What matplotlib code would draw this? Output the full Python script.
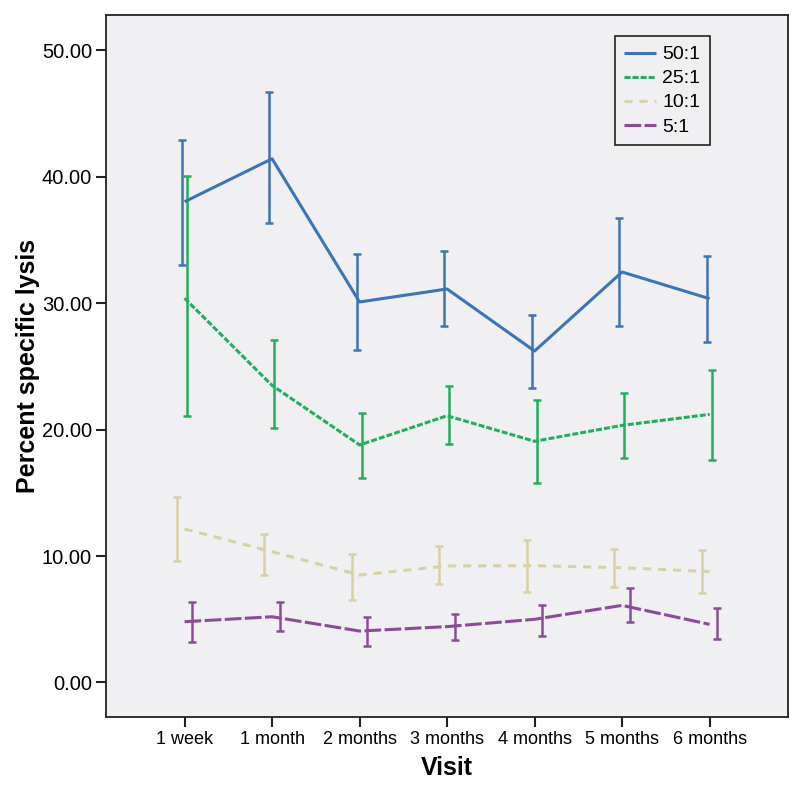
import numpy as np
import matplotlib
matplotlib.use("Agg")
import matplotlib.pyplot as plt

plt.rcParams["font.family"] = ["Liberation Sans", "DejaVu Sans"]
plt.rcParams["lines.scale_dashes"] = False

visits = ["1 week", "1 month", "2 months", "3 months", "4 months", "5 months", "6 months"]

series_labels = ["50:1", "25:1", "10:1", "5:1"]

mean_50 = [38.03, 41.43, 30.10, 31.13, 26.22, 32.47, 30.36]
upper_50 = [42.94, 46.69, 33.87, 34.13, 29.07, 36.74, 33.74]
lower_50 = [33.03, 36.35, 26.28, 28.20, 23.27, 28.20, 26.91]

mean_25 = [30.40, 23.50, 18.79, 21.10, 19.08, 20.34, 21.21]
upper_25 = [40.09, 27.10, 21.32, 23.43, 22.35, 22.90, 24.72]
lower_25 = [21.08, 20.13, 16.20, 18.87, 15.78, 17.79, 17.63]

mean_10 = [12.14, 10.35, 8.50, 9.22, 9.24, 9.08, 8.77]
upper_10 = [14.70, 11.75, 10.16, 10.80, 11.25, 10.59, 10.48]
lower_10 = [9.61, 8.50, 6.53, 7.77, 7.19, 7.53, 7.08]

mean_5 = [4.81, 5.20, 4.07, 4.42, 5.00, 6.10, 4.60]
upper_5 = [6.34, 6.39, 5.18, 5.42, 6.15, 7.47, 5.87]
lower_5 = [3.23, 4.10, 2.86, 3.36, 3.65, 4.81, 3.42]

colors = ["#3C74B8", "#22AE5C", "#D8D0A6", "#8C4B99"]
dashes = [None, (4.3, 1.5), (5.8, 5.0), (12.0, 2.5)]
bar_offsets = [-0.035, 0.025, -0.09, 0.09]

fig = plt.figure(figsize=(8.0, 7.95), dpi=100)
ax = fig.add_axes([0.1325, 0.0981, 0.8525, 0.883])
ax.set_facecolor("#F0F0F2")

x = np.arange(len(visits))
data = [
    (mean_50, upper_50, lower_50),
    (mean_25, upper_25, lower_25),
    (mean_10, upper_10, lower_10),
    (mean_5, upper_5, lower_5),
]

# draw faint ones first so blue/green stay on top
for idx in [2, 3, 1, 0]:
    mean, upper, lower = data[idx]
    mean = np.array(mean)
    upper = np.array(upper)
    lower = np.array(lower)
    (line,) = ax.plot(x, mean, color=colors[idx], lw=2.2, label=series_labels[idx],
                      solid_capstyle="butt", dash_capstyle="butt")
    if dashes[idx] is not None:
        line.set_dashes(dashes[idx])
    ax.errorbar(x + bar_offsets[idx], mean, yerr=[mean - lower, upper - mean],
                fmt="none", ecolor=colors[idx], elinewidth=1.8, capsize=3, capthick=1.8)

ax.set_xlim(-0.898, 6.896)
ax.set_ylim(-2.73, 52.8)
ax.set_xticks(x)
ax.set_xticklabels(visits, fontsize=13)
ax.set_yticks(np.arange(0, 51, 10))
ax.set_yticklabels([f"{v:.2f}" for v in np.arange(0, 51, 10)], fontsize=14.5)
ax.tick_params(direction="out", length=7, width=1.5, color="#222222", pad=3)

for spine in ax.spines.values():
    spine.set_color("#222222")
    spine.set_linewidth(1.3)

ax.set_xlabel("Visit", fontsize=18, fontweight="bold", labelpad=6)
ax.set_ylabel("Percent specific lysis", fontsize=18, fontweight="bold", labelpad=1)

handles, labels = ax.get_legend_handles_labels()
order = [labels.index(lbl) for lbl in series_labels]
leg = ax.legend([handles[i] for i in order], [labels[i] for i in order],
                loc="upper left", bbox_to_anchor=(0.746, 0.97), borderaxespad=0,
                fontsize=14, handlelength=1.6, handletextpad=0.35, labelspacing=0.33,
                borderpad=0.5, fancybox=False, framealpha=1.0)
leg.get_frame().set_edgecolor("#222222")
leg.get_frame().set_facecolor("#F0F0F2")
leg.get_frame().set_linewidth(1.2)

fig.savefig("out.png", dpi=100)
